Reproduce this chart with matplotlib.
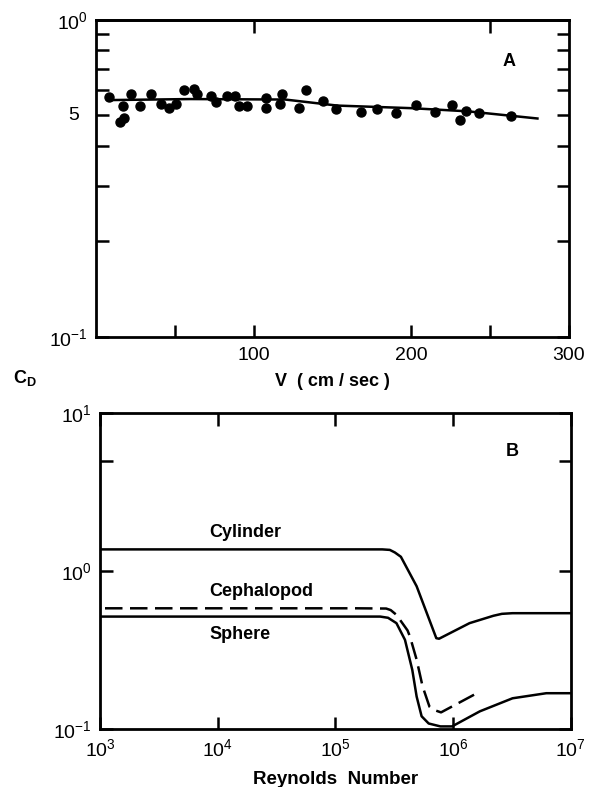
import numpy as np
import matplotlib
matplotlib.use('Agg')
import matplotlib.pyplot as plt
from matplotlib.ticker import FixedLocator, NullFormatter, NullLocator

plt.rcParams['font.family'] = ['Liberation Sans', 'DejaVu Sans']
plt.rcParams['mathtext.default'] = 'regular'

# panel A: measured drag coefficients vs speed
speed = [8, 15, 17, 18, 22, 28, 35, 41, 46, 51, 56, 62, 64, 73, 76, 83, 88, 91, 96,
         108, 108, 117, 118, 129, 133, 144, 152, 168, 178, 190, 203, 215, 226, 231,
         235, 243, 263]
cd_meas = [0.570, 0.475, 0.536, 0.490, 0.582, 0.533, 0.584, 0.544, 0.527, 0.544,
           0.600, 0.605, 0.581, 0.574, 0.550, 0.574, 0.574, 0.536, 0.536, 0.566,
           0.527, 0.541, 0.582, 0.527, 0.600, 0.556, 0.521, 0.512, 0.521, 0.508,
           0.539, 0.512, 0.540, 0.484, 0.514, 0.508, 0.496]
fit_speed = [11, 60, 120, 153, 200, 236, 280]
fit_cd = [0.558, 0.562, 0.560, 0.536, 0.526, 0.514, 0.488]

# panel B: drag curves vs Reynolds number
re_cyl = [1e3, 2.5e5, 2.9e5, 3.2e5, 3.6e5, 4.9e5, 7.2e5, 7.6e5, 1.38e6, 2.2e6, 2.6e6, 3.2e6, 1e7]
cd_cyl = [1.37, 1.37, 1.36, 1.31, 1.23, 0.80, 0.375, 0.372, 0.467, 0.52, 0.535, 0.54, 0.54]
re_ceph = [1.1e3, 1.5e5, 2.7e5, 2.95e5, 3.3e5, 4.1e5, 4.3e5, 4.9e5, 5.5e5, 6.3e5, 6.8e5, 7.9e5, 1.69e6]
cd_ceph = [0.58, 0.58, 0.578, 0.565, 0.527, 0.42, 0.384, 0.274, 0.186, 0.138, 0.132, 0.127, 0.172]
re_sph = [1e3, 2.4e5, 2.8e5, 3.3e5, 3.9e5, 4.5e5, 4.9e5, 5.4e5, 6.2e5, 7.8e5, 9.8e5,
          1.69e6, 3.2e6, 6.2e6, 1e7]
cd_sph = [0.514, 0.514, 0.505, 0.467, 0.366, 0.236, 0.16, 0.12, 0.108, 0.1035, 0.1035,
          0.129, 0.156, 0.168, 0.168]

fig = plt.figure(figsize=(5.89, 7.87), dpi=100)
ax1 = fig.add_axes([0.163, 0.572, 0.803, 0.403])
ax2 = fig.add_axes([0.170, 0.074, 0.799, 0.401])

lw = 1.8
for ax in (ax1, ax2):
    for s in ax.spines.values():
        s.set_linewidth(2)

# ---- A
ax1.plot(speed, cd_meas, 'o', color='black', ms=6.5)
ax1.plot(fit_speed, fit_cd, color='black', lw=lw)
ax1.set_yscale('log')
ax1.set_xlim(0, 300)
ax1.set_ylim(0.1, 1.0)
ax1.set_xticks([50, 100, 200, 250, 300])
ax1.set_xticklabels(['', '100', '200', '', '300'])
ax1.yaxis.set_major_locator(FixedLocator([0.1, 1.0]))
ax1.yaxis.set_minor_locator(FixedLocator([0.2, 0.3, 0.4, 0.5, 0.6, 0.7, 0.8, 0.9]))
ax1.yaxis.set_minor_formatter(NullFormatter())
ax1.set_yticklabels(['$10^{-1}$', '$10^{0}$'])
ax1.tick_params(axis='both', which='both', direction='in', length=9, width=1.8,
                labelsize=14, right=True, pad=6)
ax1.tick_params(axis='x', pad=7)
ax1.text(-0.035, 0.5, '5', transform=ax1.get_yaxis_transform(), ha='right', va='center',
         fontsize=14)
top1 = ax1.secondary_xaxis('top')
top1.set_xticks([100, 250])
top1.set_xticklabels([])
top1.tick_params(direction='in', length=9, width=1.8)
top1.spines['top'].set_linewidth(2)
ax1.text(262, 0.74, 'A', fontsize=13, fontweight='bold', ha='center', va='center')
ax1.set_xlabel('V  ( cm / sec )', fontsize=13, fontweight='bold', labelpad=7)

fig.text(0.042, 0.52, '$C_D$', fontsize=13, fontweight='bold', ha='center', va='center')

# ---- B
ax2.plot(re_cyl, cd_cyl, color='black', lw=lw)
ax2.plot(re_ceph, cd_ceph, color='black', lw=lw, linestyle=(0, (7, 3)))
ax2.plot(re_sph, cd_sph, color='black', lw=lw)
ax2.set_xscale('log')
ax2.set_yscale('log')
ax2.set_xlim(1e3, 1e7)
ax2.set_ylim(0.1, 10)
ax2.xaxis.set_major_locator(FixedLocator([1e3, 1e4, 1e5, 1e6, 1e7]))
ax2.xaxis.set_minor_locator(NullLocator())
ax2.set_xticklabels(['$10^{3}$', '$10^{4}$', '$10^{5}$', '$10^{6}$', '$10^{7}$'])
ax2.yaxis.set_major_locator(FixedLocator([0.1, 1, 10]))
ax2.yaxis.set_minor_locator(FixedLocator([5]))
ax2.yaxis.set_minor_formatter(NullFormatter())
ax2.set_yticklabels(['$10^{-1}$', '$10^{0}$', '$10^{1}$'])
ax2.tick_params(axis='both', which='both', direction='in', length=9, width=1.8,
                labelsize=14, right=True, top=True, pad=6)
ax2.tick_params(axis='x', pad=7)
ax2.set_xlabel('Reynolds  Number', fontsize=13.5, fontweight='bold', labelpad=8)
ax2.text(10**6.5, 5.7, 'B', fontsize=13, fontweight='bold', ha='center', va='center')
ax2.text(10**3.93, 1.76, 'Cylinder', fontsize=13, fontweight='bold', ha='left', va='center')
ax2.text(10**3.93, 0.743, 'Cephalopod', fontsize=13, fontweight='bold', ha='left', va='center')
ax2.text(10**3.93, 0.395, 'Sphere', fontsize=13, fontweight='bold', ha='left', va='center')

fig.savefig('out.png', dpi=100)
